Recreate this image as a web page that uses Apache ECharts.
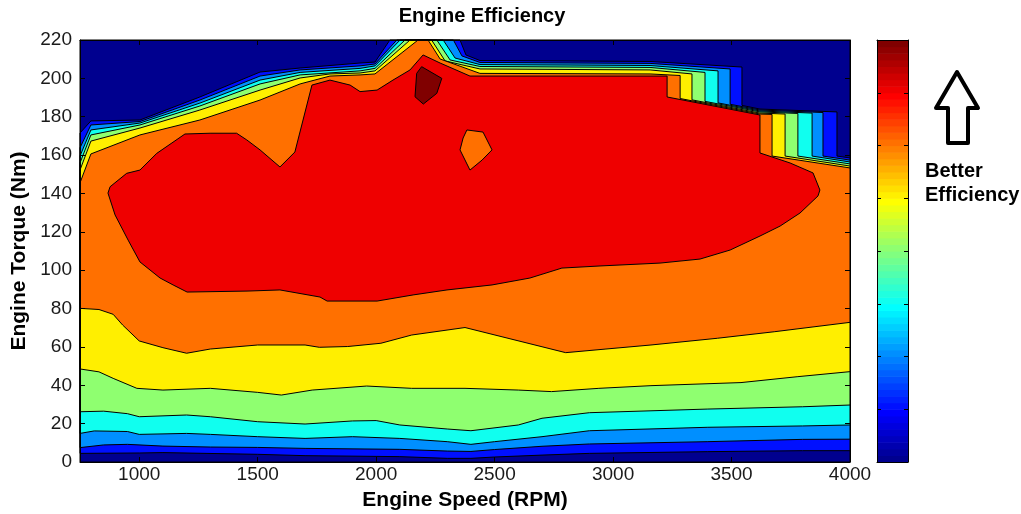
<!DOCTYPE html>
<html>
<head>
<meta charset="utf-8">
<script src="https://cdn.jsdelivr.net/npm/echarts@6/dist/echarts.min.js"></script>
<style>
html,body{margin:0;padding:0;background:#fff;}
#chart{width:1021px;height:514px;}
</style>
</head>
<body>
<div id="chart"></div>
<script>
// ---- tick labels ----
const rpmTicks = [1000, 1500, 2000, 2500, 3000, 3500, 4000];
const torqueTicks = [0, 20, 40, 60, 80, 100, 120, 140, 160, 180, 200, 220];

// ---- contour band colours (jet) ----
const bandColors = ['#00008F', '#0010FF', '#008FFF', '#10FFEF', '#8FFF70', '#FFEF00', '#FF7000', '#EF0000', '#800000'];

// ---- lower contour lines [rpm, torque] ----
const lower1 = [[750,4.5],[1000,4.7],[1100,4.9],[1500,4.0],[1700,3.3],[2100,2.8],[2300,1.9],[2400,1.9],[2500,2.6],[2700,3.6],[2900,4.5],[3400,5.4],[3800,5.9],[4000,5.9]];
const lower2 = [[750,7.5],[850,8.9],[950,9.2],[1100,8.3],[1300,7.8],[1500,7.6],[1700,7.1],[2100,6.6],[2300,5.7],[2400,5.5],[2500,6.5],[2700,8.2],[2900,9.4],[3400,10.6],[3800,11.8],[4000,11.9]];
const lower3 = [[750,14.9],[810,16.2],[950,15.9],[1000,14.4],[1200,14.9],[1300,14.4],[1500,13.2],[1700,12.3],[1900,13.2],[2100,12.3],[2300,10.6],[2400,9.2],[2500,10.6],[2700,13.2],[2900,16.3],[3400,18.1],[3800,18.8],[4000,19.3]];
const lower4 = [[750,26.2],[850,26.5],[950,25.2],[1000,23.6],[1200,24.5],[1300,23.6],[1500,21.0],[1700,19.8],[1900,21.4],[2000,21.6],[2100,19.3],[2300,17.2],[2400,16.3],[2600,19.3],[2700,22.8],[2900,25.7],[3400,27.6],[3800,28.8],[4000,29.7]];
const lower5 = [[750,48.5],[830,47.0],[890,43.6],[990,38.4],[1100,37.5],[1300,38.4],[1500,36.3],[1600,34.9],[1730,37.5],[1960,39.6],[2150,38.4],[2375,38.4],[2600,37.5],[2740,36.7],[2940,38.4],[3160,39.8],[3540,41.4],[3780,44.5],[4000,47.1]];
const lower6 = [[750,80.1],[830,79.5],[890,77.0],[930,71.4],[1000,63.1],[1100,59.6],[1200,56.7],[1300,58.9],[1500,61.0],[1700,61.0],[1760,59.8],[1880,60.2],[2020,61.9],[2150,66.2],[2375,70.1],[2800,57.0],[2970,58.9],[3160,61.0],[3440,64.5],[3680,67.9],[4000,72.8]];

// ---- upper contour lines (near max torque) [rpm, torque] ----
const upper1 = [[750,171.5],[796,177.8],[1003,178.3],[1256,190.3],[1510,203.3],[1679,205.4],[1932,208.0],[1995,208.5],[2058,220],[2354,220],[2379,212.2],[2438,209.3],[3156,208.8],[3544,205.9],[3544,185.9],[3620,184.0],[3945,182.5],[3945,159.5],[4000,158.5]];
const upper2 = [[750,163.8],[796,175.7],[1003,177.5],[1256,188.7],[1510,201.2],[1679,204.4],[1932,206.5],[1995,207.5],[2087,220],[2326,220],[2362,211.7],[2438,208.3],[3156,207.8],[3494,204.9],[3494,186.5],[3620,183.5],[3886,182.2],[3886,159.5],[4000,157.4]];
const upper3 = [[750,159.5],[796,173.1],[1003,176.7],[1256,187.1],[1510,199.1],[1679,203.1],[1932,205.2],[1995,206.5],[2101,220],[2283,220],[2333,210.6],[2438,207.2],[3156,206.7],[3443,203.9],[3443,187.2],[3620,183.0],[3840,181.9],[3840,159.5],[4000,156.4]];
const upper4 = [[750,155.9],[796,170.5],[1003,175.7],[1256,185.6],[1510,197.1],[1679,201.8],[1932,203.9],[1995,205.2],[2122,220],[2256,220],[2312,209.6],[2438,206.2],[3156,205.7],[3388,203.1],[3388,188.0],[3620,182.5],[3780,181.7],[3780,159.5],[4000,155.4]];
const upper5 = [[750,152.2],[796,167.3],[1003,174.1],[1256,183.5],[1510,193.9],[1679,200.2],[1805,202.3],[1932,202.8],[1995,203.9],[2143,220],[2234,220],[2291,209.1],[2438,204.9],[3156,204.4],[3333,202.3],[3333,188.8],[3620,181.9],[3726,181.4],[3726,159.5],[4000,154.3]];
const upper6 = [[750,145.5],[796,160.6],[1003,170.5],[1256,178.3],[1510,188.7],[1679,197.1],[1805,201.2],[1932,201.8],[1995,202.3],[2177,220],[2219,220],[2270,210.1],[2438,202.6],[3156,202.3],[3283,201.5],[3283,189.5],[3620,181.4],[3671,181.2],[3671,159.5],[4000,153.3]];

// ---- closed regions [rpm, torque] ----
const redRegion = [[868,140.2],[877,143.5],[947,150.5],[1003,152.2],[1074,160.9],[1193,171.0],[1299,171.4],[1411,171.4],[1454,167.9],[1510,162.7],[1594,153.8],[1657,161.6],[1729,196.5],[1805,199.1],[1890,196.5],[1932,193.1],[2004,193.9],[2071,199.1],[2143,204.4],[2198,212.2],[2270,208.0],[2396,201.2],[3228,201.2],[3228,190.3],[3620,180.9],[3620,161.1],[3747,155.9],[3844,150.7],[3873,141.8],[3865,138.7],[3789,129.8],[3705,123.0],[3620,117.8],[3494,110.5],[3367,105.8],[3198,103.7],[2945,102.2],[2784,101.1],[2649,95.9],[2489,92.3],[2299,89.7],[2156,87.1],[2004,83.9],[1793,83.9],[1763,86.0],[1594,89.7],[1455,89.1],[1202,88.6],[1143,92.3],[1088,95.9],[1003,104.3],[953,115.7],[898,128.8]];
const orangeIsland = [[2383,173.1],[2451,172.0],[2489,162.7],[2447,157.4],[2396,152.2],[2354,162.7],[2367,168.9]];
const darkRedIsland = [[2192,206.1],[2277,200.0],[2256,192.2],[2199,186.6],[2164,190.4],[2171,202.6]];

// ---- assemble polygons ----
const plotRect = [[750,0],[4000,0],[4000,220],[750,220]];
function band(lower, upper) { return lower.concat(upper.slice().reverse()); }
const polygons = [
  { c: bandColors[0], p: plotRect },
  { c: bandColors[1], p: band(lower1, upper1) },
  { c: bandColors[2], p: band(lower2, upper2) },
  { c: bandColors[3], p: band(lower3, upper3) },
  { c: bandColors[4], p: band(lower4, upper4) },
  { c: bandColors[5], p: band(lower5, upper5) },
  { c: bandColors[6], p: band(lower6, upper6) },
  { c: bandColors[7], p: redRegion },
  { c: bandColors[6], p: orangeIsland },
  { c: bandColors[8], p: darkRedIsland }
];

// jet(64) colormap for the colorbar
function jet(m) {
  const n = Math.ceil(m / 4), u = [];
  for (let i = 1; i <= n; i++) u.push(i / n);
  for (let i = 1; i < n; i++) u.push(1);
  for (let i = n; i >= 1; i--) u.push(i / n);
  const g0 = Math.ceil(n / 2) - (m % 4 === 1 ? 1 : 0);
  const J = [];
  for (let i = 0; i < m; i++) J.push([0, 0, 0]);
  for (let t = 0; t < u.length; t++) {
    const gi = g0 + t + 1, ri = gi + n, bi = gi - n;
    if (gi >= 1 && gi <= m) J[gi - 1][1] = u[t];
    if (ri >= 1 && ri <= m) J[ri - 1][0] = u[t];
    if (bi >= 1 && bi <= m) J[bi - 1][2] = u[t];
  }
  return J.map(c => 'rgb(' + c.map(v => Math.round(v * 255)).join(',') + ')');
}
const cmap = jet(64);
const cbarSteps = cmap.map((c, i) => [i]);

const FONT = 'Liberation Sans, Arial, Helvetica, sans-serif';
const chart = echarts.init(document.getElementById('chart'), null, { renderer: 'canvas' });

const axLine = { show: true, onZero: false, lineStyle: { color: '#000', width: 1 } };
const tickStyle = { color: '#000', width: 1 };
const plain = v => String(v);

chart.setOption({
  animation: false,
  backgroundColor: '#fff',
  textStyle: { fontFamily: FONT },
  grid: [
    { left: 80, top: 40, width: 770, height: 422, show: false, containLabel: false, outerBoundsMode: 'none' },
    { left: 877, top: 40, width: 31, height: 422, show: false, containLabel: false, outerBoundsMode: 'none' }
  ],
  xAxis: [
    { gridIndex: 0, type: 'value', min: 750, max: 4000, position: 'bottom', z: 10,
      axisLine: axLine,
      axisTick: { inside: true, length: 5, customValues: rpmTicks, lineStyle: tickStyle },
      axisLabel: { customValues: rpmTicks, formatter: plain, fontSize: 19, color: '#1a1a1a', margin: 3, fontFamily: FONT },
      splitLine: { show: false },
      name: 'Engine Speed (RPM)', nameLocation: 'middle', nameGap: 28,
      nameTextStyle: { fontWeight: 'bold', fontSize: 21, color: '#000', fontFamily: FONT } },
    { gridIndex: 0, type: 'value', min: 750, max: 4000, position: 'top', z: 10,
      axisLine: axLine,
      axisTick: { inside: true, length: 5, customValues: rpmTicks, lineStyle: tickStyle },
      axisLabel: { show: false }, splitLine: { show: false } },
    { gridIndex: 1, type: 'value', min: 0, max: 1, position: 'bottom', z: 10,
      axisLine: axLine, axisTick: { show: false }, axisLabel: { show: false }, splitLine: { show: false } },
    { gridIndex: 1, type: 'value', min: 0, max: 1, position: 'top', z: 10,
      axisLine: axLine, axisTick: { show: false }, axisLabel: { show: false }, splitLine: { show: false } }
  ],
  yAxis: [
    { gridIndex: 0, type: 'value', min: 0, max: 220, interval: 20, position: 'left', z: 10,
      axisLine: axLine,
      axisTick: { inside: true, length: 5, lineStyle: tickStyle },
      axisLabel: { formatter: plain, fontSize: 19, color: '#1a1a1a', margin: 8, fontFamily: FONT },
      splitLine: { show: false },
      name: 'Engine Torque (Nm)', nameLocation: 'middle', nameGap: 45, nameRotate: 90,
      nameTextStyle: { fontWeight: 'bold', fontSize: 21, color: '#000', fontFamily: FONT } },
    { gridIndex: 0, type: 'value', min: 0, max: 220, interval: 20, position: 'right', z: 10,
      axisLine: axLine,
      axisTick: { inside: true, length: 5, lineStyle: tickStyle },
      axisLabel: { show: false }, splitLine: { show: false } },
    { gridIndex: 1, type: 'value', min: 0, max: 64, interval: 8, position: 'left', z: 10,
      axisLine: axLine, axisTick: { inside: true, length: 4, lineStyle: tickStyle },
      axisLabel: { show: false }, splitLine: { show: false } },
    { gridIndex: 1, type: 'value', min: 0, max: 64, interval: 8, position: 'right', z: 10,
      axisLine: axLine, axisTick: { inside: true, length: 4, lineStyle: tickStyle },
      axisLabel: { show: false }, splitLine: { show: false } }
  ],
  series: [
    { type: 'custom', xAxisIndex: 0, yAxisIndex: 0, silent: true,
      data: polygons.map((p, i) => [i]),
      renderItem: function (params, api) {
        const poly = polygons[params.dataIndex];
        return {
          type: 'polygon', z2: params.dataIndex,
          shape: { points: poly.p.map(pt => api.coord(pt)) },
          style: { fill: poly.c, stroke: '#000', lineWidth: 1, lineJoin: 'round' }
        };
      } },
    { type: 'custom', xAxisIndex: 2, yAxisIndex: 2, silent: true,
      data: cbarSteps,
      renderItem: function (params, api) {
        const i = params.dataIndex;
        const a = api.coord([0, i]), b = api.coord([1, i + 1]);
        return { type: 'rect', shape: { x: a[0], y: b[1], width: b[0] - a[0], height: a[1] - b[1] + 0.6 },
                 style: { fill: cmap[i] } };
      } }
  ],
  graphic: [
    { type: 'text', x: 482, y: 16, z: 20,
      style: { text: 'Engine Efficiency', textAlign: 'center', textVerticalAlign: 'middle',
               font: 'bold 20px ' + FONT, fill: '#000' } },
    { type: 'polygon', z: 20,
      shape: { points: [[957, 72], [978, 108], [968, 108], [968, 143], [948, 143], [948, 108], [936, 108]] },
      style: { fill: '#fff', stroke: '#000', lineWidth: 4, lineJoin: 'round' } },
    { type: 'text', x: 925, y: 171, z: 20,
      style: { text: 'Better', textAlign: 'left', textVerticalAlign: 'middle',
               font: 'bold 20px ' + FONT, fill: '#000' } },
    { type: 'text', x: 925, y: 195, z: 20,
      style: { text: 'Efficiency', textAlign: 'left', textVerticalAlign: 'middle',
               font: 'bold 20px ' + FONT, fill: '#000' } }
  ]
});
</script>
</body>
</html>
